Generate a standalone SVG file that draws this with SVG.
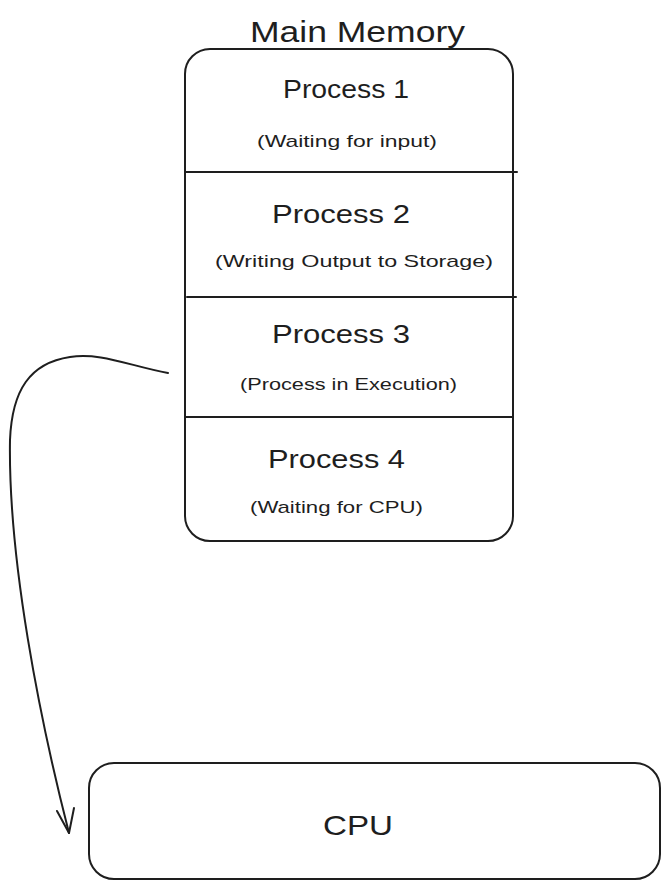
<svg xmlns="http://www.w3.org/2000/svg" width="670" height="890" viewBox="0 0 670 890">
<style>
.box{fill:none;stroke:#1e1e1e;stroke-width:2;stroke-linecap:round;stroke-linejoin:round}
.t{font-family:"Liberation Sans","DejaVu Sans",sans-serif;fill:#1e1e1e;text-anchor:middle}
.h{font-size:25px}
.s{font-size:17px}
</style>
<rect width="670" height="890" fill="#ffffff"/>
<g id="title">
<text class="t" x="357.5" y="42" font-size="30" textLength="215" lengthAdjust="spacingAndGlyphs">Main Memory</text>
</g>
<g id="main-memory">
<rect class="box" x="185" y="49" width="328" height="492" rx="25"/>
<line class="box" x1="186" y1="172" x2="517" y2="172"/>
<line class="box" x1="187" y1="297" x2="516" y2="297"/>
<line class="box" x1="186" y1="417" x2="513" y2="417"/>
</g>
<g id="process1">
<text class="t h" x="346" y="98" textLength="126" lengthAdjust="spacingAndGlyphs">Process 1</text>
<text class="t s" x="347" y="147" textLength="180" lengthAdjust="spacingAndGlyphs">(Waiting for input)</text>
</g>
<g id="process2">
<text class="t h" x="341" y="223" textLength="138" lengthAdjust="spacingAndGlyphs">Process 2</text>
<text class="t s" x="354" y="267" textLength="278" lengthAdjust="spacingAndGlyphs">(Writing Output to Storage)</text>
</g>
<g id="process3">
<text class="t h" x="341" y="343" textLength="138" lengthAdjust="spacingAndGlyphs">Process 3</text>
<text class="t s" x="348.5" y="390" textLength="217" lengthAdjust="spacingAndGlyphs">(Process in Execution)</text>
</g>
<g id="process4">
<text class="t h" x="336.5" y="468" textLength="137" lengthAdjust="spacingAndGlyphs">Process 4</text>
<text class="t s" x="336.5" y="513" textLength="173" lengthAdjust="spacingAndGlyphs">(Waiting for CPU)</text>
</g>
<g id="cpu">
<rect class="box" x="89" y="763" width="571" height="116" rx="25"/>
<text class="t" x="358" y="835" font-size="28" textLength="70" lengthAdjust="spacingAndGlyphs">CPU</text>
</g>
<g id="connectors">
<path class="box" d="M168,373 C130,366 100,352 70,357 C30,363 12,390 10,440 C8,560 40,720 69,833"/>
<polyline class="box" points="57,811 69,833 74,808"/>
</g>
</svg>
